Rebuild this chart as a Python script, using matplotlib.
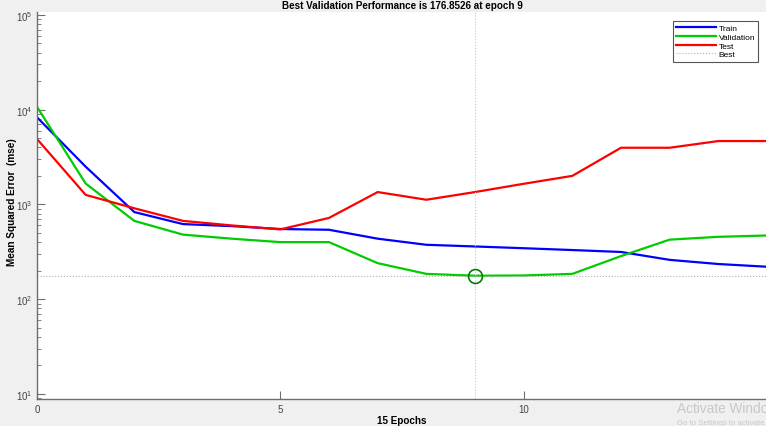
import matplotlib.pyplot as plt
import numpy as np

epochs = list(range(16))
train = [8300, 2500, 830, 620, 590, 550, 540, 435, 375, 360, 345, 330, 315, 260, 235, 220]
validation = [10700, 1660, 670, 480, 435, 400, 400, 240, 185, 176.8526, 178, 185, 285, 425, 455, 470]
test = [4900, 1260, 910, 670, 600, 545, 720, 1350, 1120, 1350, 1650, 2000, 3960, 3960, 4660, 4660]
best_epoch = 9
best_perf = 176.8526

plt.rcParams['font.family'] = ['Liberation Sans', 'DejaVu Sans']

fig = plt.figure(figsize=(7.66, 4.27), dpi=100)
fig.patch.set_facecolor('#f0f0f0')
ax = fig.add_axes([0.0483, 0.0632, 0.9530, 0.9064])
ax.set_facecolor('white')

ax.plot(epochs, train, color='#0000ff', lw=1.6, label='Train')
ax.plot(epochs, validation, color='#00cc00', lw=1.6, label='Validation')
ax.plot(epochs, test, color='#ff0000', lw=1.6, label='Test')
ax.axhline(best_perf, color='#b0b0b0', lw=0.8, ls=':', label='Best')
ax.axvline(best_epoch, color='#c8c8c8', lw=0.8, ls=':')
ax.plot([best_epoch], [best_perf], 'o', ms=10, mfc='none', mec='#008000', mew=1.2)

ax.set_yscale('log')
ax.set_xlim(0, 15)
ax.set_ylim(10 ** 0.947, 10 ** 5.03)
ax.set_xticks([0, 5, 10, 15])
ax.set_xticklabels(['0', '5', '10', ''])
ax.set_yticks([10, 100, 1000, 10000, 100000])

for s in ['top', 'right']:
    ax.spines[s].set_visible(False)
for s in ['left', 'bottom']:
    ax.spines[s].set_color('#6e6e6e')
    ax.spines[s].set_linewidth(1.0)
ax.tick_params(direction='in', which='both', colors='#6e6e6e', labelsize=7,
               labelcolor='#444444', top=False, right=False)
ax.tick_params(which='major', length=6)
ax.tick_params(which='minor', length=3)

fig.text(0.525, 1 - 6 / 427, 'Best Validation Performance is 176.8526 at epoch 9',
         fontsize=7.1, fontweight='bold', ha='center', va='center')
fig.text(0.525, 1 - 421 / 427, '15 Epochs', fontsize=7.1, fontweight='bold',
         ha='center', va='center')
fig.text(12 / 766, 1 - 202 / 427, 'Mean Squared Error  (mse)', fontsize=7.2,
         fontweight='bold', rotation=90, ha='center', va='center')

leg = ax.legend(loc='upper right', bbox_to_anchor=(0.994, 0.987), fontsize=6,
                fancybox=False, framealpha=1, edgecolor='#555555',
                handlelength=4.8, labelspacing=0.1, borderpad=0.4, handletextpad=0.3)
leg.get_frame().set_linewidth(0.8)

# windows watermark, cut off at the right edge like the screenshot
fig.text(0.884, 0.033, 'Activate Windows', fontsize=9.8, color='#c8c8c8')
fig.text(0.884, 0.004, 'Go to Settings to activate Windows.', fontsize=5.6, color='#c8c8c8')

fig.savefig('out.png', dpi=100, facecolor=fig.get_facecolor())
plt.close()
